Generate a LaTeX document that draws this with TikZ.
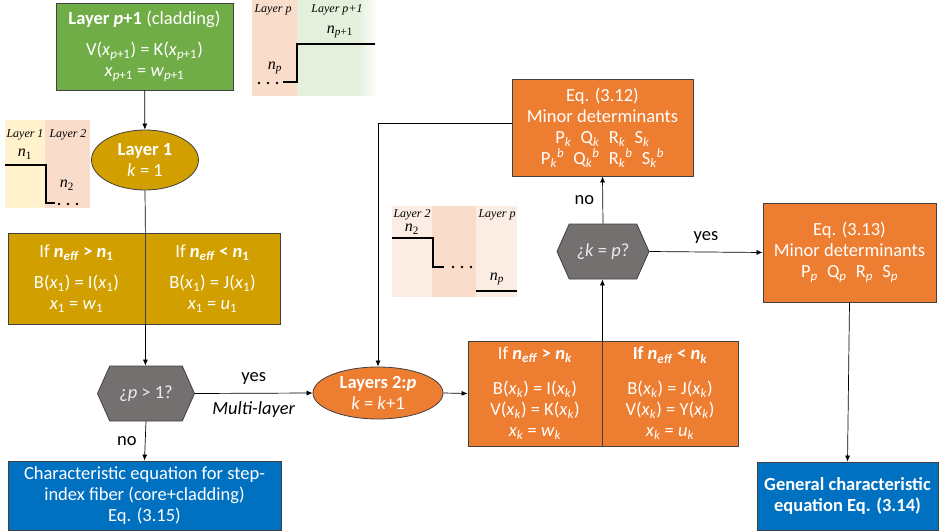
\documentclass[tikz,border=0pt]{standalone}
\usepackage{fontspec}
\setmainfont{Carlito}
\newfontfamily\insetfont{Liberation Serif}
\usetikzlibrary{positioning}
\usetikzlibrary{shapes.geometric}
\usetikzlibrary{shapes.symbols}
\usetikzlibrary{arrows.meta}

\definecolor{leafgreen}{HTML}{70AD47}
\definecolor{mustard}{HTML}{D1A000}
\definecolor{pumpkin}{HTML}{ED7D31}
\definecolor{ocean}{HTML}{0070C0}
\definecolor{slate}{HTML}{757070}
\definecolor{paleyellow}{HTML}{FFF2CC}
\definecolor{palepeach}{HTML}{F9DCCA}
\definecolor{lightpeach}{HTML}{FCEDE4}
\definecolor{palegreen}{HTML}{E4F0DC}

\newcommand{\ix}[2]{\textit{#1}\textsubscript{#2}}

\begin{document}
\begin{tikzpicture}[x=1pt, y=-1pt, font=\fontsize{18.5}{21}\selectfont]

\tikzstyle{box}=[rectangle, draw=black!75, line width=0.8pt, text=white,
  align=center, inner sep=0pt]
\tikzstyle{layer}=[ellipse, draw=black!75, line width=0.8pt, text=white,
  align=center, inner sep=0pt]
\tikzstyle{test}=[signal, signal to=east and west, signal pointer angle=132,
  draw=black!75, line width=0.8pt, fill=slate, text=white!92!black,
  inner sep=0pt]

\tikzstyle{arr}=[-{Latex[length=6pt,width=5pt]}, line width=0.7pt]
\tikzstyle{wire}=[line width=0.7pt]
\tikzstyle{profile}=[line width=2.8pt]
\tikzstyle{tag}=[font=\insetfont\itshape\fontsize{12}{14}\selectfont, inner sep=0pt]
\tikzstyle{idx}=[font=\insetfont\fontsize{16}{18}\selectfont, inner sep=0pt]

\useasboundingbox (0,0) rectangle (940,532);

% index profile sketches
\fill[paleyellow] (5,120) rectangle (45,208);
\fill[palepeach] (45,120) rectangle (90,208);
\draw[profile] (5,165) -- (46,165) -- (46,203) -- (55,203);
\node[tag] at (25,135) {Layer 1};
\node[tag] at (68,135) {Layer 2};
\node[idx] at (25,154) {\ix{n}{1}};
\node[idx] at (67,185) {\ix{n}{2}};
\foreach \d in {0,9,18} \fill (59+\d,204) circle (1.4);

\fill[palepeach] (252,0) rectangle (297,96);
\fill[palegreen] (297,0) rectangle (358,96);
\shade[left color=palegreen, right color=white] (358,0) rectangle (377,96);
\draw[profile] (283,82) -- (297,82) -- (297,44) -- (375,44);
\node[tag] at (273,10) {Layer p};
\node[tag] at (337,10) {Layer p+1};
\node[idx] at (340,32) {\ix{n}{\textit{p}+1}};
\node[idx] at (275,68) {\ix{n}{\textit{p}}};
\foreach \d in {0,9,18} \fill (259+\d,83) circle (1.4);

\fill[lightpeach] (392,206) rectangle (517,297);
\fill[palepeach] (432,206) rectangle (476,297);
\draw[profile] (392,238) -- (433,238) -- (433,267) -- (444,267);
\draw[profile] (476,291) -- (517,291);
\node[tag] at (412,215) {Layer 2};
\node[tag] at (497,215) {Layer p};
\node[idx] at (412,229) {\ix{n}{2}};
\node[idx] at (497,279) {\ix{n}{\textit{p}}};
\foreach \d in {0,9,18} \fill (453+\d,267) circle (1.4);

% first layer and cladding
\node[box, fill=leafgreen, minimum width=177pt, minimum height=87pt] (clad)
  at (144.5,46.5) {\textbf{Layer \textit{p}+1} (cladding)\\[10pt]
  V(\ix{x}{\textit{p}+1}) = K(\ix{x}{\textit{p}+1})\\
  \ix{x}{\textit{p}+1} = \ix{w}{\textit{p}+1}};
\node[layer, fill=mustard, minimum width=107pt, minimum height=60pt] (lay1)
  at (145,160) {\textbf{Layer 1}\\ \textit{k} = 1};
\draw[arr] (clad) -- (lay1);

\node[box, fill=mustard, minimum width=137pt, minimum height=91pt] (core1)
  at (76.5,278.5) {If \textbf{\ix{n}{\textit{eff}} > \ix{n}{1}}\\[10pt]
  B(\ix{x}{1}) = I(\ix{x}{1})\\ \ix{x}{1} = \ix{w}{1}};
\node[box, fill=mustard, minimum width=135pt, minimum height=91pt] (core2)
  at (212.5,278.5) {If \textbf{\ix{n}{\textit{eff}} < \ix{n}{1}}\\[10pt]
  B(\ix{x}{1}) = J(\ix{x}{1})\\ \ix{x}{1} = \ix{u}{1}};
\draw[wire] (lay1.south) -- (core1.north east);

\node[test, minimum width=97pt, minimum height=55pt] (multi)
  at (146,393.5) {¿\textit{p} > 1?};
\draw[arr] (core1.south east) -- (core1.south east |- multi.north);

\node[box, fill=ocean, minimum width=273pt, minimum height=69pt] (fiber)
  at (144.5,495.5) {Characteristic equation for step-\\
  index fiber (core+cladding)\\ Eq. (3.15)};
\draw[arr] (multi.south) -- (fiber.north) node[midway, left=5pt] {no};

% inner layers
\node[layer, fill=pumpkin, minimum width=130pt, minimum height=52pt] (lay2)
  at (378,393) {\textbf{Layers 2:\textit{p}}\\ \textit{k} = \textit{k}+1};
\draw[arr] (multi.east) -- (lay2.west)
  node[midway, above=5pt] {yes}
  node[midway, below=5pt] {\textit{Multi-layer}};

\node[box, fill=pumpkin, minimum width=134pt, minimum height=105pt] (inner1)
  at (535,393.5) {If \textbf{\ix{n}{\textit{eff}} > \ix{n}{\textit{k}}}\\[14pt]
  B(\ix{x}{\textit{k}}) = I(\ix{x}{\textit{k}})\\
  V(\ix{x}{\textit{k}}) = K(\ix{x}{\textit{k}})\\
  \ix{x}{\textit{k}} = \ix{w}{\textit{k}}};
\node[box, fill=pumpkin, minimum width=136pt, minimum height=105pt] (inner2)
  at (670,393.5) {\textbf{If \ix{n}{\textit{eff}} < \ix{n}{\textit{k}}}\\[14pt]
  B(\ix{x}{\textit{k}}) = J(\ix{x}{\textit{k}})\\
  V(\ix{x}{\textit{k}}) = Y(\ix{x}{\textit{k}})\\
  \ix{x}{\textit{k}} = \ix{u}{\textit{k}}};
\draw[arr] (lay2.east) -- (inner1.west);

\node[test, minimum width=92pt, minimum height=55pt] (last)
  at (603,251.5) {¿\textit{k} = \textit{p}?};
\draw[arr] (inner1.north east) -- (inner1.north east |- last.south);

\node[box, fill=pumpkin, minimum width=181pt, minimum height=97pt] (det)
  at (602.5,127.5) {Eq. (3.12)\\ Minor determinants\\
  P\textsubscript{\textit{k}}\enspace Q\textsubscript{\textit{k}}\enspace
  R\textsubscript{\textit{k}}\enspace S\textsubscript{\textit{k}}\\
  P\textsubscript{\textit{k}}\textsuperscript{\textit{b}}\enspace
  Q\textsubscript{\textit{k}}\textsuperscript{\textit{b}}\enspace
  R\textsubscript{\textit{k}}\textsuperscript{\textit{b}}\enspace
  S\textsubscript{\textit{k}}\textsuperscript{\textit{b}}};
\draw[arr] (last.north) -- (det.south) node[midway, left=5pt] {no};
\draw[arr] ([yshift=4.5pt]det.west) -| (lay2.north);

\node[box, fill=pumpkin, minimum width=173pt, minimum height=99pt] (detp)
  at (849.5,252.5) {Eq. (3.13)\\ Minor determinants\\
  P\textsubscript{\textit{p}}\enspace Q\textsubscript{\textit{p}}\enspace
  R\textsubscript{\textit{p}}\enspace S\textsubscript{\textit{p}}};
\draw[arr] (last.east) -- (detp.west) node[midway, above=5pt] {yes};

\node[box, fill=ocean, minimum width=181pt, minimum height=68pt] (general)
  at (847.5,496) {\textbf{General characteristic}\\ \textbf{equation Eq. (3.14)}};
\draw[arr] (detp.south) -- (general.north);

\end{tikzpicture}
\end{document}
